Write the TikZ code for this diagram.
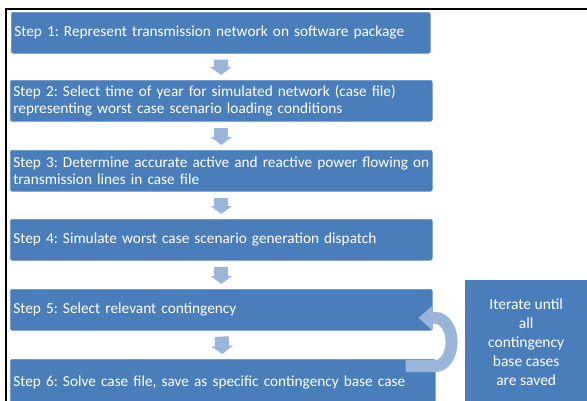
\documentclass[tikz,border=0pt]{standalone}
\usepackage{fontspec}
\setmainfont{Carlito}
\usetikzlibrary{arrows.meta}
\definecolor{boxblue}{HTML}{4A7EBB}
\definecolor{boxedge}{HTML}{6A95C8}
\definecolor{arrowblue}{HTML}{9BB4DA}
\begin{document}
\frenchspacing
\begin{tikzpicture}[x=1pt,y=-1pt,
  stepbox/.style={fill=boxblue, draw=boxedge, line width=0.6pt, rounded corners=2pt,
    text=white, anchor=north west, align=left, inner xsep=3pt, inner ysep=0pt,
    minimum height=41pt, font=\fontsize{15.3}{16.8}\selectfont},
  fatarrow/.style={draw=arrowblue, line width=14pt,
    -{Triangle[width=21pt,length=8pt]}, shorten <=6pt, shorten >=5pt},
  looparrow/.style={draw=arrowblue, line width=12pt,
    -{Triangle[width=24pt,length=14pt]}},
  notebox/.style={fill=boxblue, text=white, anchor=north west, align=center,
    minimum width=122pt, minimum height=124pt, inner sep=0pt,
    font=\fontsize{15.5}{19}\selectfont}]
\useasboundingbox (0,0) rectangle (587,400);
\begin{scope}
\clip (0,0) rectangle (587,400);
\fill[white] (0,0) rectangle (587,400);
\draw[line width=2pt] (6,401) -- (6,9) -- (588,9);

\node[stepbox, text width=413pt] (b1) at (11,12) {Step 1: Represent transmission network on software package};
\node[stepbox, text width=416pt] (b2) at (10,80) {Step 2: Select time of year for simulated network (case file)\\representing worst case scenario loading conditions};
\node[stepbox, text width=416pt] (b3) at (10,150) {Step 3: Determine accurate active and reactive power flowing on\\transmission lines in case file};
\node[stepbox, text width=416pt] (b4) at (10,219) {Step 4: Simulate worst case scenario generation dispatch};
\node[stepbox, text width=416pt] (b5) at (10,289) {Step 5: Select relevant contingency};
\node[stepbox, text width=419pt, minimum height=46pt] (b6) at (10,359) {Step 6: Solve case file, save as specific contingency base case};

\draw[fatarrow] (b1.south) -- (b2.north);
\draw[fatarrow] (b2.south) -- (b3.north);
\draw[fatarrow] (b3.south) -- (b4.north);
\draw[fatarrow] (b4.south) -- (b5.north);
\draw[fatarrow] (b5.south) -- (b6.north);

\coordinate (ls) at ([xshift=-30pt,yshift=-7pt]b6.north east);
\coordinate (lt) at ([xshift=-14pt,yshift=-8pt]b5.east);
\draw[looparrow] (ls) -- ++(30,0) arc[start angle=90, end angle=-90, x radius=16, y radius=24] -- (lt);

\node[notebox] (note) at (465,280) {Iterate until\\all\\contingency\\base cases\\are saved};
\end{scope}
\end{tikzpicture}
\end{document}
